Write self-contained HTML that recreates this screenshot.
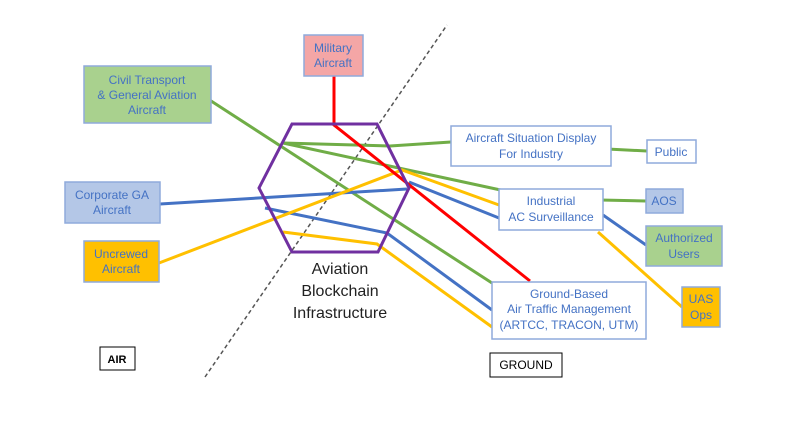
<!DOCTYPE html><html><head><style>body{margin:0;background:#fff}</style></head><body>
<svg width="800" height="427" xmlns="http://www.w3.org/2000/svg" font-family="Liberation Sans, sans-serif">
<line x1="205" y1="377" x2="447" y2="25" stroke="#555" stroke-width="1.5" stroke-dasharray="4,3"/>
<g fill="none" stroke-width="3">
<polyline points="208,99 492,283" stroke="#70ad47"/>
<polyline points="283,143 390,146 451,142" stroke="#70ad47"/>
<polyline points="283,143 510,192" stroke="#70ad47"/>
<line x1="607" y1="149" x2="647" y2="151" stroke="#70ad47"/>
<line x1="600" y1="200" x2="646" y2="201" stroke="#70ad47"/>
<polyline points="160,204 407,189" stroke="#4472c4"/>
<polyline points="409,182 499,218" stroke="#4472c4"/>
<polyline points="265,208 387,233 492,310" stroke="#4472c4"/>
<line x1="603" y1="215" x2="646" y2="245" stroke="#4472c4"/>
<polyline points="159,263 402,170 499,205" stroke="#ffc000"/>
<polyline points="283,232 377,244 492,327" stroke="#ffc000"/>
<line x1="598" y1="232" x2="682" y2="307" stroke="#ffc000"/>
<polyline points="334,76 334,125 530,281" stroke="#ff0000"/>
<polygon points="292,124 377,124 409,188 378,252 292,252 259,188" stroke="#7030a0"/>
</g>
<g stroke="#8faadc" stroke-width="1.5">
<rect x="84" y="66" width="127" height="57" fill="#a9d18e"/>
<rect x="304" y="35" width="59" height="41" fill="#f4a6a6"/>
<rect x="65" y="182" width="95" height="41" fill="#b4c7e7"/>
<rect x="84" y="241" width="75" height="41" fill="#ffc000"/>
<rect x="451" y="126" width="160" height="40" fill="#fff"/>
<rect x="647" y="140" width="49" height="23" fill="#fff"/>
<rect x="499" y="189" width="104" height="41" fill="#fff"/>
<rect x="646" y="189" width="37" height="24" fill="#b4c7e7"/>
<rect x="646" y="226" width="76" height="40" fill="#a9d18e"/>
<rect x="682" y="287" width="38" height="40" fill="#ffc000"/>
<rect x="492" y="282" width="154" height="57" fill="#fff"/>
</g>
<rect x="100" y="347" width="35" height="23" fill="#fff" stroke="#000"/>
<rect x="490" y="353" width="72" height="24" fill="#fff" stroke="#000"/>
<g fill="#4472c4" font-size="12" text-anchor="middle">
<text x="147" y="84">Civil Transport</text><text x="147" y="99">&amp; General Aviation</text><text x="147" y="114">Aircraft</text>
<text x="333" y="52">Military</text><text x="333" y="67">Aircraft</text>
<text x="112" y="199">Corporate GA</text><text x="112" y="214">Aircraft</text>
<text x="121" y="258">Uncrewed</text><text x="121" y="273">Aircraft</text>
<text x="531" y="142">Aircraft Situation Display</text><text x="531" y="158">For Industry</text>
<text x="671" y="156">Public</text>
<text x="551" y="205">Industrial</text><text x="551" y="221">AC Surveillance</text>
<text x="664" y="205">AOS</text>
<text x="684" y="242">Authorized</text><text x="684" y="258">Users</text>
<text x="701" y="303">UAS</text><text x="701" y="319">Ops</text>
<text x="569" y="298">Ground-Based</text><text x="569" y="313">Air Traffic Management</text><text x="569" y="329">(ARTCC, TRACON, UTM)</text>
</g>
<g fill="#222" font-size="16" text-anchor="middle">
<text x="340" y="274">Aviation</text><text x="340" y="296">Blockchain</text><text x="340" y="318">Infrastructure</text>
</g>
<text x="117" y="363" font-size="11" font-weight="bold" text-anchor="middle">AIR</text>
<text x="526" y="369" font-size="12" text-anchor="middle">GROUND</text>
</svg></body></html>
